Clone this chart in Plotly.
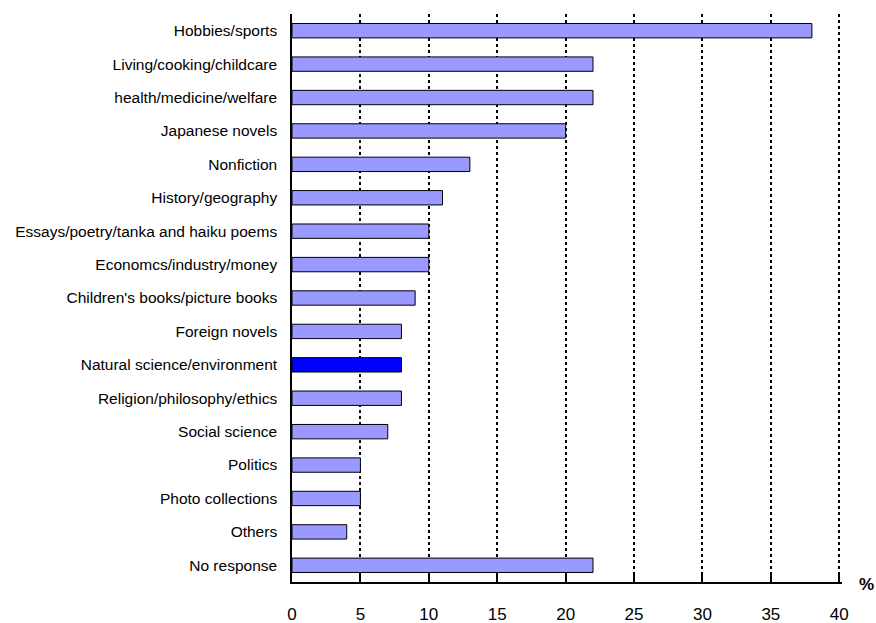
import plotly.graph_objects as go

categories = ["Hobbies/sports", "Living/cooking/childcare", "health/medicine/welfare",
              "Japanese novels", "Nonfiction", "History/geography",
              "Essays/poetry/tanka and haiku poems", "Economcs/industry/money",
              "Children's books/picture books", "Foreign novels",
              "Natural science/environment", "Religion/philosophy/ethics",
              "Social science", "Politics", "Photo collections", "Others", "No response"]
values = [38, 22, 22, 20, 13, 11, 10, 10, 9, 8, 8, 8, 7, 5, 5, 4, 22]
highlight = "Natural science/environment"
tick_vals = [0, 5, 10, 15, 20, 25, 30, 35, 40]

colors = ["#0000FF" if c == highlight else "#9999FF" for c in categories]

FONT = "Liberation Sans Narrow, Arial Narrow, Liberation Sans, Arial, sans-serif"

fig = go.Figure(go.Bar(
    x=values, y=categories, orientation="h",
    marker=dict(color=colors, line=dict(color="#000000", width=1)),
    width=0.43,
))

fig.update_layout(
    width=876, height=623,
    margin=dict(l=292, r=34, t=14, b=41),
    plot_bgcolor="white", paper_bgcolor="white",
    font=dict(family=FONT, size=15.5, color="#000000"),
    showlegend=False,
)
fig.update_xaxes(
    range=[0, 40.2], tickvals=tick_vals, ticktext=[str(v) for v in tick_vals],
    showgrid=True, gridcolor="#000000", griddash="dot", gridwidth=2,
    showline=True, linecolor="#000000", linewidth=1.5,
    ticks="inside", ticklen=9, tickcolor="#000000", tickwidth=1.5,
    tickfont=dict(size=17), ticklabelstandoff=16,
    zeroline=False, automargin=False,
)
fig.update_yaxes(
    categoryorder="array", categoryarray=categories, range=[16.5, -0.5],
    showline=True, linecolor="#000000", linewidth=1.5,
    showgrid=False, ticks="", ticklabelstandoff=10,
    tickfont=dict(size=15.5), automargin=False,
)
fig.add_annotation(
    x=1.0, y=0, xref="paper", yref="paper", xanchor="left", yanchor="middle",
    xshift=15, yshift=-2, text="<b>%</b>", showarrow=False,
    font=dict(size=17, family="Liberation Sans, Arial, sans-serif"),
)
fig.write_html(
    "out.html",
    config={"displayModeBar": False},
    post_script="document.body.style.margin='0';"
                "document.body.style.overflow='hidden';"
                "document.documentElement.style.overflow='hidden';",
)
